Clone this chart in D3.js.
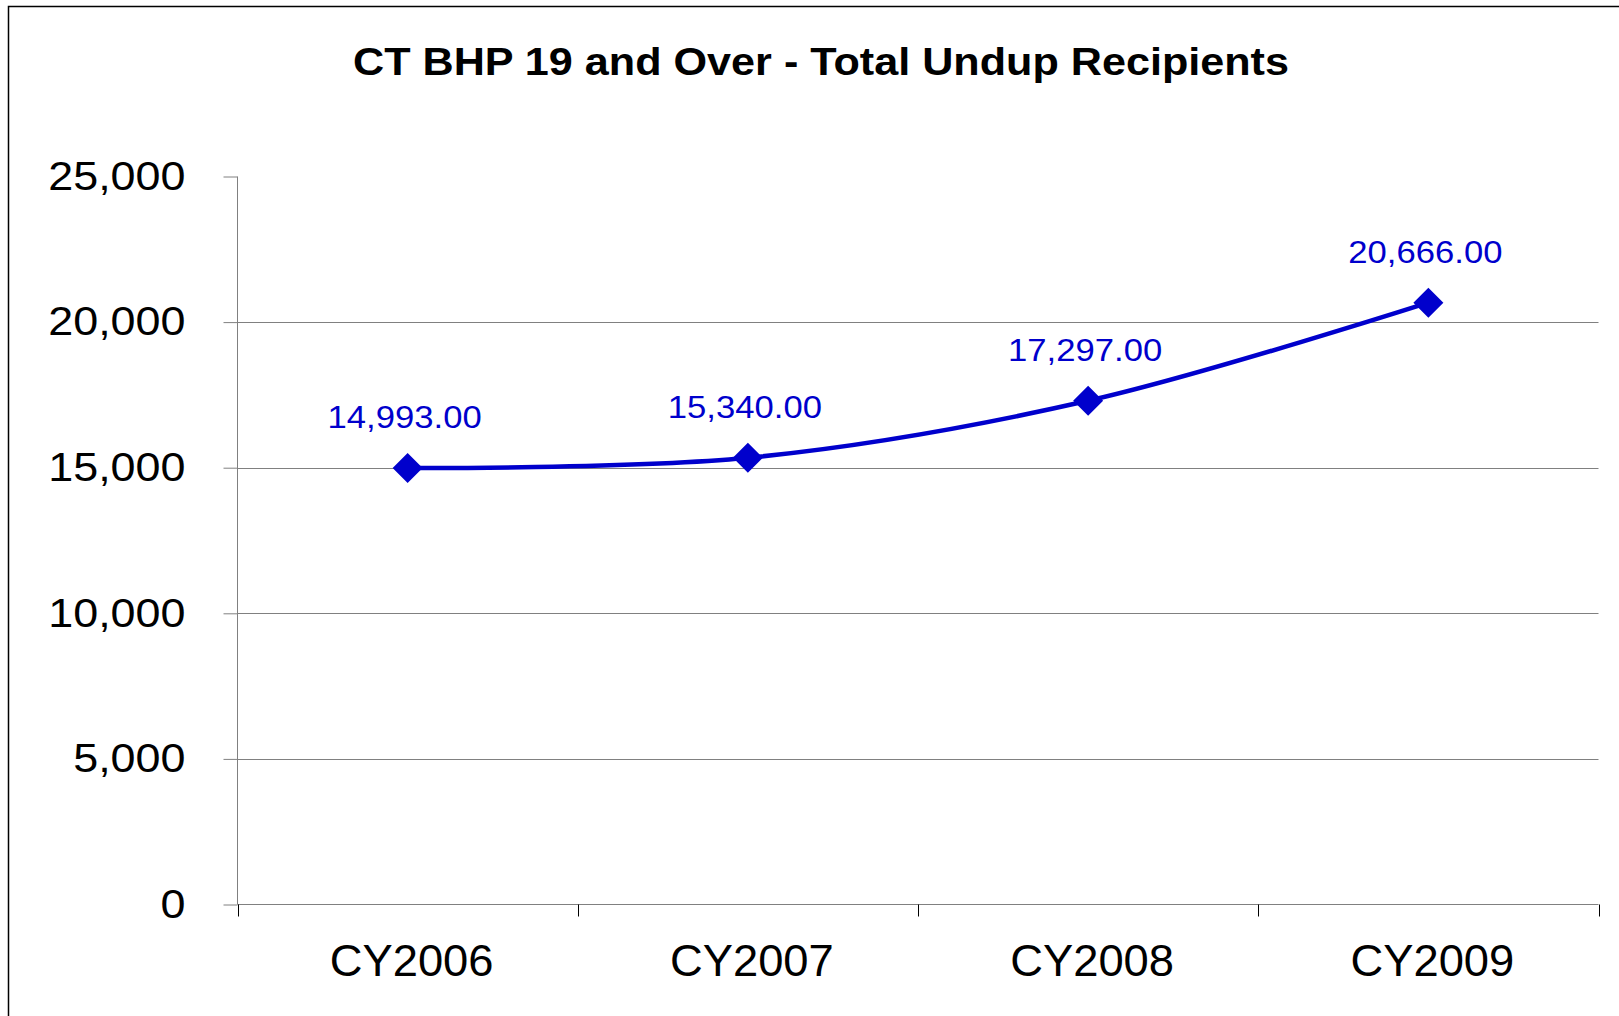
<!DOCTYPE html>
<html>
<head>
<meta charset="utf-8">
<script src="https://cdn.jsdelivr.net/npm/d3@7"></script>
<style>
  body { margin: 0; background: #fff; }
  svg { display: block; font-family: 'Liberation Sans', Arial, sans-serif; }
</style>
</head>
<body>
<svg id="canvas" width="1619" height="1016"></svg>
<script>
let categories = ['CY2006', 'CY2007', 'CY2008', 'CY2009']
let values = [14993, 15340, 17297, 20666]
let yTicks = [0, 5000, 10000, 15000, 20000, 25000]
let title = 'CT BHP 19 and Over - Total Undup Recipients'

let plotLeft = 237.5
let plotRight = 1598.5
let plotTop = 176.5
let plotBottom = 904.5
let blue = '#0000cc'

let canvas = d3.select('#canvas')

// widen glyphs a bit, the source renderer draws text wider than Arial
let stretch = (sel, factor) => {
    sel.each(function () {
        let w = this.getComputedTextLength()
        d3.select(this).attr('textLength', w * factor).attr('lengthAdjust', 'spacingAndGlyphs')
    })
}

// chart frame (cut off at right and bottom)
canvas.append('rect')
      .attr('x', 8.5).attr('y', 6.5)
      .attr('width', 1640).attr('height', 1040)
      .attr('fill', 'none')
      .attr('stroke', '#000')
      .attr('stroke-width', 1.5)

canvas.append('text')
      .attr('x', 821).attr('y', 75)
      .attr('text-anchor', 'middle')
      .attr('font-size', 39)
      .attr('font-weight', 'bold')
      .attr('textLength', 936)
      .attr('lengthAdjust', 'spacingAndGlyphs')
      .text(title)

let xScale = d3.scaleBand().domain(categories).range([plotLeft, plotRight])
let yScale = d3.scaleLinear().domain([0, 25000]).range([plotBottom, plotTop])

// gridlines (none on the top value)
canvas.append('g')
      .selectAll('line')
      .data(yTicks.filter(d => d > 0 && d < 25000))
      .enter()
      .append('line')
      .attr('x1', plotLeft).attr('x2', plotRight)
      .attr('y1', d => Math.round(yScale(d)) + 0.5)
      .attr('y2', d => Math.round(yScale(d)) + 0.5)
      .attr('stroke', '#808080')

// y axis
let yAxis = d3.axisLeft(yScale).tickValues(yTicks).tickSize(14).tickPadding(38)
              .tickFormat(d3.format(','))
let yg = canvas.append('g').attr('transform', 'translate(' + plotLeft + ',0)').call(yAxis)
yg.select('.domain').attr('stroke', '#808080').attr('d', 'M0,' + plotTop + 'V' + plotBottom)
yg.selectAll('.tick line').attr('stroke', '#808080')
yg.selectAll('.tick text').attr('font-size', 41).attr('fill', '#000')
  .attr('font-family', "'Liberation Sans', Arial, sans-serif").attr('dy', '0.31em')
  .call(stretch, 1.095)

// x axis
let xAxis = d3.axisBottom(xScale).tickSize(0).tickPadding(40)
let xg = canvas.append('g').attr('transform', 'translate(0,' + plotBottom + ')').call(xAxis)
xg.select('.domain').attr('stroke', '#808080').attr('d', 'M' + plotLeft + ',0H' + plotRight)
xg.selectAll('.tick text').attr('font-size', 44).attr('fill', '#000')
  .attr('font-family', "'Liberation Sans', Arial, sans-serif").attr('dy', '0.71em')
  .attr('x', 4)
  .call(stretch, 1.03)
xg.selectAll('.sep')
  .data(categories.map(c => xScale(c)).concat([plotRight]))
  .enter()
  .append('line')
  .attr('x1', d => Math.round(d) + 0.5).attr('x2', d => Math.round(d) + 0.5)
  .attr('y1', 0).attr('y2', 12)
  .attr('stroke', '#000')

let cx = (d, i) => xScale(categories[i]) + xScale.bandwidth() / 2

// smoothed line
let line = d3.line()
             .x((d, i) => cx(d, i))
             .y(d => yScale(d))
             .curve(d3.curveCatmullRom.alpha(0.5))

canvas.append('path')
      .datum(values)
      .attr('d', line)
      .attr('fill', 'none')
      .attr('stroke', blue)
      .attr('stroke-width', 4.5)

canvas.selectAll('.marker')
      .data(values)
      .enter()
      .append('path')
      .attr('d', 'M0,-15L15,0L0,15L-15,0Z')
      .attr('transform', (d, i) => 'translate(' + cx(d, i) + ',' + yScale(d) + ')')
      .attr('fill', blue)

canvas.selectAll('.label')
      .data(values)
      .enter()
      .append('text')
      .attr('x', (d, i) => cx(d, i) - 3)
      .attr('y', d => yScale(d) - 40)
      .attr('text-anchor', 'middle')
      .attr('font-size', 31.5)
      .attr('fill', blue)
      .text(d => d3.format(',.2f')(d))
      .call(stretch, 1.1)
</script>
</body>
</html>
